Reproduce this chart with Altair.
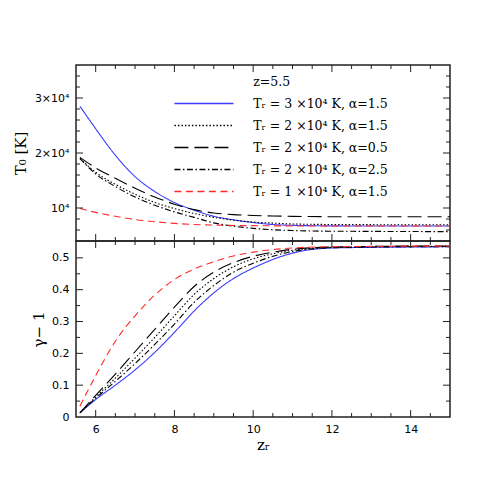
import altair as alt
import pandas as pd

# ---------------- data ----------------
z_r = [5.6, 6.0, 6.5, 7.0, 7.5, 8.0, 8.5, 9.0, 9.5, 10.0, 10.5, 11.0, 12.0, 13.0, 14.0, 15.0]

series = ["s30_15", "s20_15", "s20_05", "s20_25", "s10_15"]
legend_labels = [
    "Tᵣ = 3 ×10⁴ K, α=1.5",
    "Tᵣ = 2 ×10⁴ K, α=1.5",
    "Tᵣ = 2 ×10⁴ K, α=0.5",
    "Tᵣ = 2 ×10⁴ K, α=2.5",
    "Tᵣ = 1 ×10⁴ K, α=1.5",
]
header_label = "z=5.5"

T0_s30_15 = [28500, 24400, 19600, 15700, 13000, 11000, 9600, 8500, 7850, 7350, 7000, 6850, 6750, 6730, 6720, 6720]
T0_s20_15 = [19000, 16500, 14300, 12500, 11000, 9900, 9000, 8300, 7800, 7450, 7250, 7100, 7000, 6970, 6950, 6950]
T0_s20_05 = [19200, 17300, 15400, 13600, 12000, 10700, 9700, 9100, 8800, 8650, 8550, 8480, 8420, 8410, 8400, 8400]
T0_s20_25 = [19000, 16200, 13900, 12000, 10500, 9300, 8300, 7300, 6700, 6300, 6050, 5900, 5780, 5750, 5720, 5700]
T0_s10_15 = [9900, 9200, 8500, 7900, 7500, 7200, 7000, 6900, 6830, 6790, 6760, 6740, 6730, 6720, 6720, 6720]

g_s30_15 = [0.013, 0.055, 0.100, 0.148, 0.203, 0.266, 0.333, 0.390, 0.435, 0.468, 0.495, 0.515, 0.531, 0.533, 0.534, 0.535]
g_s20_15 = [0.013, 0.063, 0.122, 0.185, 0.250, 0.318, 0.385, 0.435, 0.472, 0.497, 0.513, 0.524, 0.533, 0.535, 0.536, 0.536]
g_s20_05 = [0.013, 0.068, 0.135, 0.205, 0.275, 0.345, 0.410, 0.455, 0.485, 0.505, 0.518, 0.527, 0.534, 0.536, 0.537, 0.537]
g_s20_25 = [0.013, 0.059, 0.112, 0.168, 0.228, 0.292, 0.360, 0.413, 0.455, 0.483, 0.505, 0.520, 0.532, 0.534, 0.535, 0.535]
g_s10_15 = [0.034, 0.130, 0.238, 0.318, 0.383, 0.432, 0.465, 0.488, 0.506, 0.518, 0.526, 0.531, 0.535, 0.536, 0.537, 0.537]

legend_T = [29000, 25000, 21000, 17000, 13000]
header_T = 33000
legend_line_z = [8.0, 9.5]
legend_text_z = 10.0

x_major = [6, 8, 10, 12, 14]
x_minor = [6.5, 7, 7.5, 8.5, 9, 9.5, 10.5, 11, 11.5, 12.5, 13, 13.5, 14.5]
yT_major = [10000, 20000, 30000]
yT_minor = [6000, 8000, 12000, 14000, 16000, 18000, 22000, 24000, 26000, 28000, 32000, 34000]
yg_major = [0.1, 0.2, 0.3, 0.4, 0.5]
yg_minor = [0.05, 0.15, 0.25, 0.35, 0.45]

# ---------------- styles ----------------
colors = ["#3b3bff", "#000000", "#000000", "#000000", "#ff2a2a"]
dashes = [[1, 0], [1.5, 2], [14, 6], [6, 2.5, 1.5, 2.5], [7, 4.5]]
INK = "#222222"
W, H1, H2 = 374, 176, 176
SERIF = "DejaVu Serif"
SANS = "DejaVu Sans"

T0 = [T0_s30_15, T0_s20_15, T0_s20_05, T0_s20_25, T0_s10_15]
G = [g_s30_15, g_s20_15, g_s20_05, g_s20_25, g_s10_15]

df_text = pd.DataFrame({
    "z": [legend_text_z] * 6,
    "val": [header_T] + legend_T,
    "label": [header_label] + legend_labels,
})

xs = alt.Scale(domain=[5.5, 15], nice=False, zero=False)
ys_up = alt.Scale(domain=[4000, 36000], nice=False, zero=False)
ys_lo = alt.Scale(domain=[0, 0.553], nice=False, zero=False)

ax_up_y = alt.Axis(
    values=yT_major, ticks=False, tickSize=0, domain=False, grid=False,
    labelExpr="datum.value == 10000 ? '10⁴' : format(datum.value / 10000, 'd') + '×10⁴'",
    labelPadding=7, labelFont=SANS, labelFontSize=11, labelColor="black",
    title="T₀ [K]", titleX=-56, titleY=H1 / 2, titleAngle=270, titleAlign="center",
    titleBaseline="middle", titleFont=SERIF, titleFontSize=15, titleFontWeight="normal",
    titleColor="black")
ax_lo_x = alt.Axis(
    values=x_major, ticks=False, tickSize=0, domain=False, grid=False,
    labelPadding=6, labelFont=SANS, labelFontSize=11, labelColor="black",
    title="zᵣ", titleX=W / 2, titleY=27, titleAlign="center", titleBaseline="middle",
    titleFont=SERIF, titleFontSize=15, titleFontWeight="normal", titleColor="black")
ax_lo_y = alt.Axis(
    values=[0] + yg_major, ticks=False, tickSize=0, domain=False, grid=False,
    labelExpr="datum.value == 0 ? '0' : format(datum.value, '.1f')",
    labelPadding=7, labelFont=SANS, labelFontSize=11, labelColor="black",
    title="γ− 1", titleX=-38, titleY=H2 / 2, titleAngle=270, titleAlign="center",
    titleBaseline="middle", titleFont=SERIF, titleFontSize=15, titleFontWeight="normal",
    titleColor="black")


def tick_layers(yscale, ymaj, ymin, H, xaxis, yaxis):
    out = []
    for vals, L in [(x_major, 7), (x_minor, 4)]:
        base = alt.Chart(pd.DataFrame({"v": vals})).mark_rule(color=INK, strokeWidth=1)
        xe = alt.X("v:Q", scale=xs, axis=xaxis)
        out.append(base.encode(x=xe, y=alt.value(H), y2=alt.value(H - L)))
        out.append(base.encode(x=xe, y=alt.value(0), y2=alt.value(L)))
    for vals, L in [(ymaj, 7), (ymin, 4)]:
        base = alt.Chart(pd.DataFrame({"v": vals})).mark_rule(color=INK, strokeWidth=1)
        ye = alt.Y("v:Q", scale=yscale, axis=yaxis)
        out.append(base.encode(y=ye, x=alt.value(0), x2=alt.value(L)))
        out.append(base.encode(y=ye, x=alt.value(W), x2=alt.value(W - L)))
    return out


up_layers, leg_layers, lo_layers = [], [], []
for s, c, d, tv, gv, lt in zip(series, colors, dashes, T0, G, legend_T):
    up_layers.append(
        alt.Chart(pd.DataFrame({"z": z_r, "val": tv})).mark_line(
            color=c, strokeDash=d, strokeWidth=1.1, interpolate="monotone", clip=True
        ).encode(x=alt.X("z:Q", scale=xs, axis=None), y=alt.Y("val:Q", scale=ys_up, axis=ax_up_y))
    )
    leg_layers.append(
        alt.Chart(pd.DataFrame({"z": legend_line_z, "val": [lt, lt]})).mark_line(
            stroke=c, color=c, strokeDash=d, strokeWidth=1.4, opacity=1
        ).encode(x=alt.X("z:Q", scale=xs, axis=None), y=alt.Y("val:Q", scale=ys_up, axis=ax_up_y))
    )
    lo_layers.append(
        alt.Chart(pd.DataFrame({"z": z_r, "val": gv})).mark_line(
            color=c, strokeDash=d, strokeWidth=1.1, interpolate="monotone", clip=True
        ).encode(x=alt.X("z:Q", scale=xs, axis=ax_lo_x), y=alt.Y("val:Q", scale=ys_lo, axis=ax_lo_y))
    )

up_text = alt.Chart(df_text).mark_text(align="left", baseline="middle", font=SERIF, fontSize=12.5, color="black").encode(
    x=alt.X("z:Q", scale=xs, axis=None),
    y=alt.Y("val:Q", scale=ys_up, axis=ax_up_y),
    text="label:N",
)
upper = alt.layer(*up_layers, up_text, *tick_layers(ys_up, yT_major, yT_minor, H1, None, ax_up_y), *leg_layers).properties(width=W, height=H1)
lower = alt.layer(*lo_layers, *tick_layers(ys_lo, yg_major, yg_minor, H2, ax_lo_x, ax_lo_y)).properties(width=W, height=H2)

chart = alt.vconcat(upper, lower, spacing=0, bounds="flush").properties(
    padding={"left": 4, "top": 55, "right": 5, "bottom": 5},
).configure_view(stroke=INK, strokeWidth=1.5)

chart.save("out.html", embed_options={"renderer": "svg", "actions": False})
